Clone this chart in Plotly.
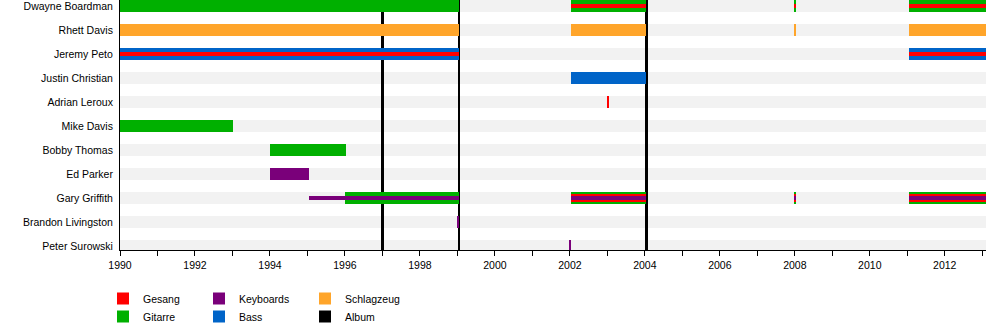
import plotly.graph_objects as go

# Band members, top row first
members = [
    "Dwayne Boardman", "Rhett Davis", "Jeremy Peto", "Justin Christian",
    "Adrian Leroux", "Mike Davis", "Bobby Thomas", "Ed Parker",
    "Gary Griffith", "Brandon Livingston", "Peter Surowski",
]

# Instrument colours (legend labels)
instrument_colors = {
    "Gesang": "#ff0000",
    "Gitarre": "#00b000",
    "Keyboards": "#7a007a",
    "Bass": "#0064c8",
    "Schlagzeug": "#ffa52a",
}

# Membership periods: member, start, end, instruments (main role first)
periods = [
    ("Dwayne Boardman", 1990.00, 1999.04, ["Gitarre"]),
    ("Dwayne Boardman", 2002.03, 2004.04, ["Gitarre", "Gesang"]),
    ("Dwayne Boardman", 2008.00, 2008.03, ["Gitarre", "Gesang"]),
    ("Dwayne Boardman", 2011.04, 2013.10, ["Gitarre", "Gesang"]),
    ("Rhett Davis", 1990.00, 1999.04, ["Schlagzeug"]),
    ("Rhett Davis", 2002.03, 2004.04, ["Schlagzeug"]),
    ("Rhett Davis", 2008.00, 2008.03, ["Schlagzeug"]),
    ("Rhett Davis", 2011.04, 2013.10, ["Schlagzeug"]),
    ("Jeremy Peto", 1990.00, 1999.04, ["Bass", "Gesang"]),
    ("Jeremy Peto", 2011.04, 2013.10, ["Bass", "Gesang"]),
    ("Justin Christian", 2002.03, 2004.04, ["Bass"]),
    ("Adrian Leroux", 2003.00, 2003.03, ["Gesang"]),
    ("Mike Davis", 1990.00, 1993.01, ["Gitarre"]),
    ("Bobby Thomas", 1994.00, 1996.03, ["Gitarre"]),
    ("Ed Parker", 1994.00, 1995.03, ["Keyboards"]),
    ("Gary Griffith", 1996.00, 1999.04, ["Gitarre", "Keyboards"]),
    ("Gary Griffith", 2002.03, 2004.04, ["Gitarre", "Gesang", "Keyboards"]),
    ("Gary Griffith", 2008.00, 2008.03, ["Gitarre", "Gesang", "Keyboards"]),
    ("Gary Griffith", 2011.04, 2013.10, ["Gitarre", "Gesang", "Keyboards"]),
    ("Brandon Livingston", 1999.00, 1999.03, ["Keyboards"]),
    ("Peter Surowski", 2002.00, 2002.03, ["Keyboards"]),
]

# Side roles drawn as a thin line
side_roles = [
    ("Gary Griffith", 1995.03, 1996.00, "Keyboards"),
]

# Album releases
albums = [1997.00, 1999.04, 2004.05]

timeline_start = 1990.0
timeline_end = 2013.1

# ---- geometry (row = 1 unit = 24 px) ----
ROW_PX = 24.0
Y_TOP = -6 / ROW_PX
Y_BOTTOM = len(members) - 1 + 4 / ROW_PX
FULL = 12 / ROW_PX
STRIPES = {1: [12], 2: [12, 4], 3: [12, 8, 4]}
THIN = 4 / ROW_PX
ALBUM_W = 0.075

row_of = {m: i for i, m in enumerate(members)}

# collect bars per instrument
bars = {k: {"y": [], "base": [], "x": [], "w": []} for k in instrument_colors}
for member, start, end, inst in periods:
    sizes = STRIPES[len(inst)]
    for name, px in zip(inst, sizes):
        b = bars[name]
        b["y"].append(row_of[member])
        b["base"].append(start)
        b["x"].append(end - start)
        b["w"].append(px / ROW_PX)
for member, start, end, name in side_roles:
    b = bars[name]
    b["y"].append(row_of[member])
    b["base"].append(start)
    b["x"].append(end - start)
    b["w"].append(THIN)

fig = go.Figure()

# background band per member
fig.add_trace(go.Bar(
    orientation="h",
    y=list(range(len(members))),
    base=[timeline_start] * len(members),
    x=[timeline_end - timeline_start] * len(members),
    width=[FULL] * len(members),
    marker=dict(color="#f2f2f2", line=dict(width=0)),
    showlegend=False, hoverinfo="skip",
))

# legend slots: one legend box per entry, laid out in a 3x2 grid
legend_slot = {
    "Gesang": "legend", "Gitarre": "legend2",
    "Keyboards": "legend3", "Bass": "legend4",
    "Schlagzeug": "legend5", "Album": "legend6",
}

# album release lines spanning all rows
fig.add_trace(go.Bar(
    orientation="h",
    name="Album",
    y=[(Y_TOP + Y_BOTTOM) / 2] * len(albums),
    base=[a - ALBUM_W / 2 for a in albums],
    x=[ALBUM_W] * len(albums),
    width=[Y_BOTTOM - Y_TOP] * len(albums),
    marker=dict(color="#000000", line=dict(width=0)),
    legend=legend_slot["Album"], hoverinfo="skip",
))

for name in ["Gitarre", "Schlagzeug", "Bass", "Gesang", "Keyboards"]:
    b = bars[name]
    fig.add_trace(go.Bar(
        orientation="h",
        name=name,
        y=b["y"], base=b["base"], x=b["x"], width=b["w"],
        marker=dict(color=instrument_colors[name], line=dict(width=0)),
        legend=legend_slot[name], hoverinfo="skip",
    ))

FONT = "Liberation Sans, Arial, sans-serif"
PLOT_H = 250.0

def legend_box(left_px, top_px):
    return dict(
        x=(left_px - 120) / 866.0, xanchor="left",
        y=(PLOT_H - top_px) / PLOT_H, yanchor="top",
        orientation="v", bgcolor="rgba(0,0,0,0)", borderwidth=0,
        font=dict(family=FONT, size=10.5, color="#000"),
        itemclick=False, itemdoubleclick=False,
    )

COLS = [103, 199, 305]
ROWS = [284, 302]

fig.update_layout(
    width=1000, height=330,
    margin=dict(l=120, r=14, t=0, b=80, autoexpand=False),
    paper_bgcolor="white", plot_bgcolor="white",
    barmode="overlay", bargap=0,
    font=dict(family=FONT, size=10.5, color="#000"),
    xaxis=dict(
        range=[timeline_start, timeline_end],
        tick0=1990, dtick=2, ticks="outside", ticklen=5, tickcolor="#000",
        minor=dict(dtick=1, ticks="outside", ticklen=5, tickcolor="#000"),
        showline=True, linecolor="#000", linewidth=1,
        showgrid=False, zeroline=False,
        tickfont=dict(family=FONT, size=10.5, color="#000"),
    ),
    yaxis=dict(
        range=[Y_BOTTOM, Y_TOP],
        tickvals=list(range(len(members))), ticktext=members,
        ticks="", ticklabelstandoff=4, ticklabeloverflow="allow",
        showline=True, linecolor="#000", linewidth=1,
        showgrid=False, zeroline=False,
        tickfont=dict(family=FONT, size=10.5, color="#000"),
    ),
    legend=legend_box(COLS[0], ROWS[0]),
    legend2=legend_box(COLS[0], ROWS[1]),
    legend3=legend_box(COLS[1], ROWS[0]),
    legend4=legend_box(COLS[1], ROWS[1]),
    legend5=legend_box(COLS[2], ROWS[0]),
    legend6=legend_box(COLS[2], ROWS[1]),
)

fig.write_html("out.html")
